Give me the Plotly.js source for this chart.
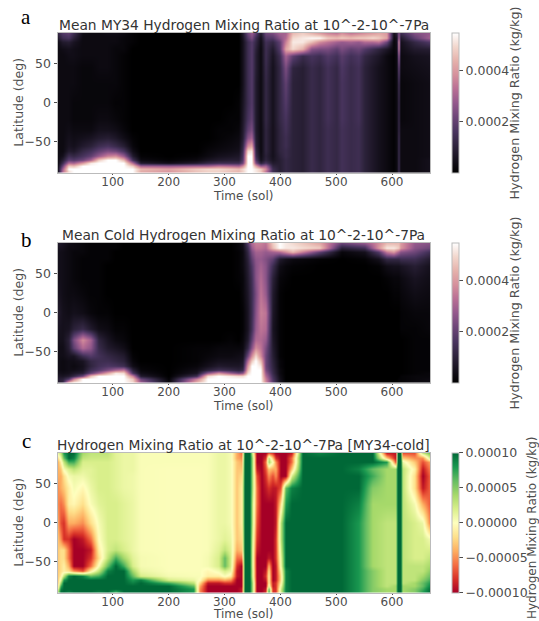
<!DOCTYPE html>
<html><head><meta charset="utf-8">
<script src="https://cdn.plot.ly/plotly-3.0.1.min.js"></script>
<style>html,body{margin:0;padding:0;background:#fff}#p{width:539px;height:621px}</style>
</head><body><div id="p"></div>
<script>
// Values, in units of 1e-5 kg/kg
const lats=[90,84,78,70,60,45,25,0,-20,-35,-45,-55,-62,-68,-73,-77,-81,-85,-90];
const solsA=[1,10,20,30,45,60,75,90,105,120,135,150,200,250,270,290,310,325,333,342,348,356,364,374,386,398,410,422,440,455,470,485,500,510,525,540,550,565,575,590,603,608,612,616,640,668];
const solsB=[1,10,20,30,45,60,75,90,105,120,135,150,200,250,270,290,310,325,333,342,348,356,364,374,386,398,410,422,470,510,550,575,590,603,608,612,616,640,668];
const solsC=[1,6,12,20,30,45,60,75,90,105,120,135,150,200,245,255,270,290,300,310,322,330,336,344,350,358,366,374,379,386,392,400,410,420,440,470,510,540,565,590,606,609,615,618,640,655,668];
const zA=[
[12,18,20,14,4,3,3,4,4,3,1,0,0,0,0,0,0,0,8,22,28,20,8,22,24,30,30,45,48,44,40,36,34,38,34,36,38,40,42,40,5,10,25,14,25,28],
[8,14,16,10,3,3,3,3,3,2,1,0,0,0,0,0,0,0,6,18,24,14,5,18,18,26,32,50,52,54,54,48,46,48,46,48,48,50,48,42,3,6,30,8,20,30],
[4,8,9,6,3,3,3,3,3,2,1,0,0,0,0,0,0,0,5,14,18,12,4,15,12,20,36,52,52,46,38,34,30,28,30,28,32,32,34,22,2,5,38,5,12,18],
[3,4,5,4,3,3,3,3,2,2,0,0,0,0,0,0,0,0,5,14,18,10,3,14,8,18,42,50,44,26,24,24,20,24,20,22,18,14,11,7,2,4,36,4,8,9],
[3,3,4,4,3,3,3,3,2,1,0,0,0,0,0,0,0,0,5,14,18,9,3,14,6,14,30,20,13,16,14,18,15,19,15,17,12,9,7,3,1,3,28,3,5,6],
[3,3,3,3,2,2,3,3,2,1,0,0,0,0,0,0,0,0,5,14,18,9,3,13,5,12,24,11,9,13,11,15,12,17,13,15,10,7,5,3,1,3,20,3,4,5],
[3,3,3,3,2,2,2,2,2,1,0,0,0,0,0,0,0,0,5,14,18,8,3,12,5,12,20,10,9,13,11,15,12,16,13,15,10,7,5,3,1,3,14,2,3,4],
[3,3,3,2,2,2,2,2,1,1,0,0,0,0,0,0,0,1,6,14,18,8,3,12,5,12,18,10,9,13,11,15,12,16,13,15,10,7,5,3,1,3,12,2,3,4],
[3,3,3,2,2,2,3,3,2,1,0,0,0,0,0,0,1,1,7,16,20,8,3,12,5,12,16,10,9,13,11,15,12,16,13,15,10,7,5,3,1,3,12,2,3,4],
[3,3,4,3,3,3,5,5,4,2,0,0,0,0,0,1,1,2,8,20,24,8,3,11,5,11,15,10,9,13,11,14,12,15,13,14,10,7,5,3,1,3,12,3,3,4],
[3,3,5,4,5,6,8,9,7,4,1,0,0,0,0,1,2,3,9,26,30,9,3,11,5,11,14,10,9,13,11,14,12,15,13,14,10,7,5,3,1,3,13,3,3,4],
[3,3,6,5,8,10,14,16,13,9,2,0,0,0,1,2,3,4,12,38,42,10,3,11,5,11,14,10,9,13,11,14,12,15,13,14,10,7,5,3,1,3,13,3,3,4],
[3,3,8,7,12,15,20,24,22,16,4,0,0,0,2,3,4,5,14,50,52,12,3,11,5,11,13,10,9,13,11,14,12,15,13,14,10,7,5,3,1,3,13,3,3,4],
[3,5,14,12,16,20,28,36,38,28,8,1,0,1,3,5,6,7,16,55,55,14,4,10,5,10,13,10,9,13,11,14,12,15,13,14,10,7,5,3,1,3,13,3,3,4],
[3,9,20,18,22,30,48,55,55,45,15,3,1,3,6,8,9,9,18,55,55,18,5,11,6,9,12,10,9,13,11,14,12,15,13,14,10,7,5,3,1,3,13,3,3,5],
[3,14,32,30,40,52,55,55,55,55,32,8,4,8,12,14,14,14,22,55,55,25,10,16,8,9,12,10,9,13,11,14,12,15,13,14,10,7,5,3,1,3,13,3,3,5],
[4,22,48,46,55,55,55,55,55,55,48,30,28,30,30,34,32,30,38,55,55,42,28,30,11,9,12,10,9,13,11,14,12,15,13,14,10,7,5,3,1,3,13,3,3,5],
[5,30,55,55,55,55,55,55,55,55,55,45,42,48,50,50,48,46,50,55,55,52,48,38,14,9,12,10,9,13,11,14,12,15,13,14,10,7,5,3,1,3,13,3,3,5],
[2,35,48,55,55,55,55,55,55,55,55,42,38,46,48,48,45,44,48,55,55,52,48,32,14,9,12,10,9,13,11,14,12,15,13,14,10,7,5,3,1,3,13,3,3,5]
];
const zB=[
[8,6,4,3,2,1,1,1,1,0,0,0,0,0,0,0,0,2,5,18,32,36,36,34,48,55,52,50,42,22,28,38,45,45,45,45,40,28,26],
[6,5,3,3,2,1,1,1,1,0,0,0,0,0,0,0,0,2,4,14,28,34,34,32,46,55,52,52,48,10,15,40,52,52,50,48,40,26,22],
[5,4,3,2,2,1,1,1,0,0,0,0,0,0,0,0,0,1,3,12,24,30,30,28,30,32,38,45,20,2,5,18,35,40,34,30,26,22,14],
[5,4,3,2,1,1,1,1,0,0,0,0,0,0,0,0,0,1,3,10,20,27,28,25,20,8,5,3,1,0,1,5,12,12,12,12,14,14,8],
[5,4,3,2,1,1,1,0,0,0,0,0,0,0,0,0,0,1,3,9,17,26,30,26,14,4,2,1,0,0,0,1,4,5,5,5,6,9,5],
[5,4,3,2,1,1,1,0,0,0,0,0,0,0,0,0,0,1,2,8,15,26,32,26,10,2,1,0,0,0,0,0,1,2,2,2,3,6,4],
[6,4,3,3,2,1,1,0,0,0,0,0,0,0,0,0,0,0,2,7,14,24,34,28,8,1,0,0,0,0,0,0,0,1,1,1,2,4,3],
[8,5,4,5,4,2,1,1,0,0,0,0,0,0,0,0,0,0,1,6,14,26,36,34,7,1,0,0,0,0,0,0,0,0,0,0,1,2,2],
[6,5,6,10,13,8,4,3,1,1,0,0,0,0,0,0,0,0,1,6,15,28,34,32,6,1,0,0,0,0,0,0,0,0,0,0,1,1,2],
[5,5,10,24,38,30,11,6,3,2,0,0,0,0,0,0,1,0,2,8,20,32,32,28,7,1,0,0,0,0,0,0,0,0,0,0,0,1,1],
[4,4,9,20,32,27,13,8,6,4,0,0,0,1,1,2,2,2,3,12,26,38,34,24,8,1,0,0,0,0,0,0,0,0,0,0,0,1,1],
[4,4,6,6,14,18,15,12,10,8,1,0,0,1,2,3,3,4,5,22,38,50,38,22,9,1,0,0,0,0,0,0,0,0,0,0,0,1,1],
[4,3,4,4,6,12,14,14,12,10,2,0,0,1,3,5,5,5,7,32,48,55,46,22,10,2,0,0,0,0,0,0,0,0,0,0,0,1,1],
[4,3,4,3,5,11,15,17,16,14,4,1,0,2,5,8,7,7,9,40,55,55,52,22,11,2,0,0,0,0,0,0,0,0,0,0,0,1,1],
[4,3,4,4,6,14,18,24,30,34,10,2,0,4,10,14,12,10,13,45,55,55,55,24,12,3,0,0,0,0,0,0,0,0,0,0,0,1,1],
[5,4,5,7,9,20,30,42,52,50,16,4,0,6,26,38,28,22,26,50,55,55,55,28,13,3,0,0,0,0,0,0,0,0,0,0,0,1,2],
[7,6,8,12,22,46,55,55,55,55,36,8,0,14,50,55,52,50,50,55,55,55,55,32,15,4,0,0,0,0,0,0,0,0,0,0,1,2,2],
[9,10,18,36,55,55,55,55,55,55,48,22,1,36,55,55,55,55,55,55,55,55,55,36,17,5,0,0,0,0,0,0,0,0,0,1,1,2,3],
[8,12,48,55,55,55,55,55,55,55,50,30,2,46,55,55,55,55,55,55,55,55,55,38,19,5,0,0,0,0,0,0,0,0,0,1,1,3,3]
];
const zC=[
[1,3,8,10,10,4,3,3,3,1.5,1,1,0.3,0.3,0.3,0.3,0.3,1,1,0.5,-4,-6,10,10,1,-10,-10,-10,-7,-8,-10,-10,-10,-9,10,9,10,10,10,-9,-9,10,10,-7,-7,3,6],
[-2,1,6,10,9,3,2.5,2.5,2.5,1.5,1,1,0.3,0.3,0.3,0.3,0.3,1,1,0.5,-4,-5,10,10,3,-10,-10,-8,3,-3,-8,-10,-10,-6,10,10,10,10,10,-3,-9,10,10,-3,-5,-5,3],
[-4,-1,3,7,7,2,2,2,2,1.5,1,1,0.3,0.3,0.3,0.3,0.3,1,1,0.5,-3,-4,10,10,3,-10,-10,-6,4,0,-5,-10,-10,-6,10,10,10,10,10,8,-7,10,10,1,-3,-7,-4],
[-4,-3,0.5,2,3,1.5,1.5,2,2,1.5,1,1,0.3,0.2,0.2,0.2,0.3,1,1,0.5,-3,-3,10,10,3,-9,-10,-7,-3,-4,-4,-10,-10,-3,10,10,10,9,6,4,4,10,10,3,-1,-9,-5],
[-4,-4,-2,0.5,1,0.8,1.5,2,2,1.5,1,0.8,0.3,0.2,0.2,0.2,0.3,1,1,0.5,-3,-2,10,10,3,-7,-10,-8,-5,-7,-5,-10,-10,2,10,10,10,10,7,4,4,10,10,3,-2,-10,-6],
[-5,-4,-3,-1,0.5,-0.5,1,2,2,1.5,1,0.8,0.3,0.2,0.2,0.2,0.3,1,1,0.5,-3,-1,10,10,3,-6,-10,-9,-8,-9,-9,-7,6,9,10,10,10,10,5,4,4,10,10,3,-2,-9,-6],
[-5,-6,-5,-1,-0.5,-2,0.3,1.5,2,2,1.5,1,0.3,0.2,0.2,0.2,0.3,1,1,0.5,-3,-1,10,10,2,-6,-10,-10,-10,-10,-9,-2,8,10,10,10,10,9,4,4,4,10,10,3,0.5,-4,-7],
[-4,-7,-8,-4,-4,-5,-2,0.5,2,2,1.5,1,0.3,0.2,0.2,0.2,0.3,1,1,0.5,-3,-1,10,10,2,-7,-10,-10,-10,-10,-9,3,10,10,10,10,10,8,4,3,3,10,10,3,2,1,-6],
[-3,-5,-8,-8,-10,-9,-6,0,2,2,1.5,1,0.3,0.2,0.2,0.2,0.3,1,1.5,1,-3,-2,10,10,1,-8,-10,-10,-10,-10,-8,3,10,10,10,10,10,8,4,3,3,10,10,3,2,2,0.5],
[-3,-2,-2,-6,-10,-10,-9,-1,2,3,2,1,0.3,0.2,0.2,0.2,0.3,1.5,3,1.5,-4,-3,10,10,0.5,-9,-10,-10,-10,-10,-8,2,10,10,10,10,10,8,4,3,3,10,10,3,2,2,2],
[-3,-2,-2,-6,-10,-10,-8,-2,3,7,4,1.5,0.5,0.2,0.2,0.2,0.5,2,6,2,-6,-6,10,10,0.5,-10,-10,-10,-9,-10,-8,1,10,10,10,10,10,8,4,3,3,10,10,3,2,2,3],
[-3,-2,-1,-4,-10,-10,-6,0.3,6,10,7,2,0.5,0.2,0.2,0.2,0.5,2,6,2,-8,-10,10,10,0.5,-10,-10,-10,-4,-10,-9,0.5,10,10,10,10,10,8,4,3,3,10,10,3,3,3,4],
[-3,-2,-1,-2,-5,-7,-1,3,9,10,10,4,1,0.2,0.2,0.2,-0.5,0.5,2,1,-9,-10,10,10,1,-10,-10,-9,-2,-10,-9,-1,9,10,10,10,10,8,5,3,3,10,10,3,3,3,5],
[-3,-1,3,9,10,9,6,7,10,10,10,6,2,0.5,0.3,0.3,-1,-1,0.3,-1,-9,-10,10,10,1,-10,-10,-8,-1,-10,-9,-2,9,10,10,10,10,8,5,3,3,10,10,3,3,4,6],
[-3,1,8,10,10,10,10,10,10,10,10,8,9,2,1,0,-5,-5,-4,-5,-10,-10,10,10,2,-10,-10,-9,-1,-10,-9,-2,9,10,10,10,10,8,5,3,3,10,10,3,3,5,7],
[-3,4,10,10,10,10,10,10,10,10,10,9,10,7,3,-2,-9,-9,-8,-8,-10,-10,10,10,3,-10,-10,-10,-1,-9,-8,-1,9,10,10,10,10,8,5,3,3,10,10,3,4,6,8],
[-2,7,10,10,10,10,10,10,10,10,10,10,10,10,6,-4,-10,-10,-10,-10,-10,-10,10,10,3,-10,-10,-10,1,-9,-8,0.5,9,10,10,10,10,8,5,3,4,10,10,4,4,6,9],
[1,9,10,10,10,10,10,10,10,10,10,10,10,10,8,-5,-10,-10,-10,-10,-10,-9,10,10,3,-10,-10,-9,6,-8,-8,2,9,10,10,10,10,8,5,4,4,10,10,4,5,7,10],
[4,10,10,9,10,10,10,9,10,6,10,10,10,10,8,-5,-10,-10,-10,-10,-10,-9,10,10,3,-10,-10,-8,8,-8,-8,2,9,10,10,10,10,8,5,4,4,10,10,4,5,8,10]
];
const titles=["Mean MY34 Hydrogen Mixing Ratio at 10^-2-10^-7Pa","Mean Cold Hydrogen Mixing Ratio at 10^-2-10^-7Pa","Hydrogen Mixing Ratio at 10^-2-10^-7Pa [MY34-cold]"];
const letters=["a","b","c"];
const xTicks=[100,200,300,400,500,600];
const yTicks=[-50,0,50];
const cbTicksAB=[0.0002,0.0004];
const cbTicksC=[-0.0001,-0.00005,0,0.00005,0.0001];
const cbTitle='Hydrogen Mixing Ratio (kg/kg)';

const W=539,H=621,L=57.5,R=430,PH=140;
const tops=[32.7,242.7,452.7];
const letterY=[17,240,441];
const cbTitleX=[514,514,532];
const cbTitleY=[103.5,313.5,528];
const cbTitleSize=[12.7,12.7,12];
const ink='#4d4d4d',FONT='"DejaVu Sans",sans-serif';
const helix=[[0,'#000000'],[0.1,'#17121f'],[0.2,'#30253f'],[0.3,'#4a3560'],[0.4,'#6d4678'],[0.5,'#93598c'],[0.6,'#b86f94'],[0.7,'#d5909c'],[0.8,'#e5b1ab'],[0.9,'#f2d6cc'],[1,'#ffffff']];
const rdylgn=[[0,'#a50026'],[0.1,'#d73027'],[0.2,'#f46d43'],[0.3,'#fdae61'],[0.4,'#fee08b'],[0.5,'#ffffbf'],[0.6,'#d9ef8b'],[0.7,'#a6d96a'],[0.8,'#66bd63'],[0.9,'#1a9850'],[1,'#006837']];
const scale=m=>m.map(r=>r.map(v=>v*1e-5));
const cb=(i,vals,fmt)=>({x:452/W,xanchor:'left',xpad:0,ypad:0,thickness:7,thicknessmode:'pixels',
  y:1-(tops[i]+PH)/H,yanchor:'bottom',len:PH/H,lenmode:'fraction',
  tickmode:'array',tickvals:vals,tickformat:fmt,ticks:'outside',ticklen:4,tickcolor:ink,
  tickfont:{family:FONT,size:12.5,color:ink},outlinecolor:'#bbbbbb',outlinewidth:1});
const trace=(i,x,z,cs,zmin,zmax,vals,fmt)=>({type:'heatmap',x:x,y:lats,z:scale(z),colorscale:cs,zmin:zmin,zmax:zmax,
  zsmooth:'best',xaxis:i?'x'+(i+1):'x',yaxis:i?'y'+(i+1):'y',colorbar:cb(i,vals,fmt),hoverinfo:'skip'});
const data=[
 trace(0,solsA,zA,helix,0,0.00055,cbTicksAB,'.4f'),
 trace(1,solsB,zB,helix,0,0.00055,cbTicksAB,'.4f'),
 trace(2,solsC,zC,rdylgn,-0.0001,0.0001,cbTicksC,'.5f')
];
const layout={width:W,height:H,margin:{l:0,r:0,t:0,b:0,autoexpand:false},paper_bgcolor:'#fff',plot_bgcolor:'#fff',showlegend:false,annotations:[]};
tops.forEach((t,i)=>{
  const s=i?String(i+1):'';
  layout['xaxis'+s]={domain:[L/W,R/W],range:[1,668],anchor:'y'+s,tickmode:'array',tickvals:xTicks,ticks:'outside',ticklen:1,ticklabelstandoff:-3,tickcolor:ink,
    tickfont:{family:FONT,size:12,color:ink},showgrid:false,zeroline:false,showline:true,mirror:true,linecolor:'#bbbbbb',linewidth:1};
  layout['yaxis'+s]={domain:[1-(t+PH)/H,1-t/H],range:[-90,90],anchor:'x'+s,tickmode:'array',tickvals:yTicks,ticks:'outside',ticklen:3,tickcolor:ink,
    tickfont:{family:FONT,size:12.5,color:ink},showgrid:false,zeroline:false,showline:true,mirror:true,linecolor:'#bbbbbb',linewidth:1};
  layout.annotations.push({xref:'paper',yref:'paper',x:243.5/W,y:1-t/H,xanchor:'center',yanchor:'bottom',yshift:-2,showarrow:false,
    text:titles[i],font:{family:FONT,size:13.8,color:'#333333'}});
  layout.annotations.push({xref:'paper',yref:'paper',x:243/W,y:1-(t+PH+(i==2?21.5:23))/H,xanchor:'center',yanchor:'middle',showarrow:false,
    text:'Time (sol)',font:{family:FONT,size:12,color:ink}});
  layout.annotations.push({xref:'paper',yref:'paper',x:19/W,y:1-(t+PH/2)/H,xanchor:'center',yanchor:'middle',textangle:-90,showarrow:false,
    text:'Latitude (deg)',font:{family:FONT,size:12.5,color:ink}});
  layout.annotations.push({xref:'paper',yref:'paper',x:cbTitleX[i]/W,y:1-cbTitleY[i]/H,xanchor:'center',yanchor:'middle',textangle:-90,showarrow:false,
    text:cbTitle,font:{family:FONT,size:cbTitleSize[i],color:ink}});
  layout.annotations.push({xref:'paper',yref:'paper',x:26.5/W,y:1-letterY[i]/H,xanchor:'center',yanchor:'middle',showarrow:false,
    text:letters[i],font:{family:'"Liberation Serif",serif',size:21,color:'#000000'}});
});
Plotly.newPlot('p',data,layout,{displayModeBar:false,staticPlot:true});
</script></body></html>
